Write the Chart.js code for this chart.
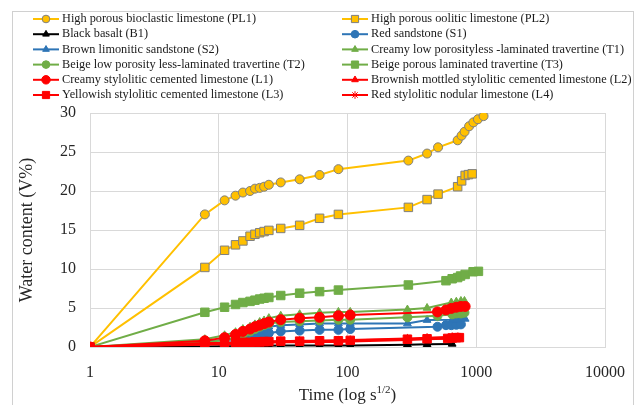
<!DOCTYPE html>
<html>
<head>
<meta charset="utf-8">
<script src="https://cdn.jsdelivr.net/npm/chart.js@4.4.1/dist/chart.umd.min.js"></script>
<style>
    html, body { margin: 0; padding: 0; background: #fff; }
</style>
</head>
<body>
<canvas id="waterChart" width="641" height="405"></canvas>
<script>
"use strict";

// time points (s^1/2), shared start of every series
const tEarly = [1, 7.8, 11.1, 13.5, 15.4, 17.5, 19.1, 20.8, 22.5, 24.5, 30.3, 42.5, 60.7, 85];
const tLow = tEarly.concat([105]);

const tPL1 = tEarly.concat([297, 415, 505, 717, 769, 812, 880, 950, 1030, 1140]);
const tPL2 = tEarly.concat([297, 415, 505, 717, 770, 820, 870, 930]);
const tT3 = tEarly.concat([297, 582, 650, 717, 755, 820, 945, 1040]);
const tT1 = tLow.concat([292, 415, 640, 700, 760, 810]);
const tT2 = tLow.concat([292, 500, 650, 700, 760, 810]);
const tL1 = tLow.concat([500, 582, 640, 700, 760, 820]);
const tS2 = tLow.concat([292, 415, 650, 700, 760, 820]);
const tS1 = tLow.concat([500, 582, 640, 700, 760]);
const tL3 = tLow.concat([292, 415, 600, 650, 700, 740]);
const tL2 = tLow.concat([292, 415, 650, 720]);
const tL4 = tLow.concat([292, 415, 650, 720]);
const tB1 = tLow.concat([292, 415, 650]);

// water content (V%)
const pl1 = [0, 17.0, 18.8, 19.4, 19.8, 20.0, 20.3, 20.4, 20.55, 20.8, 21.1, 21.5, 22.05, 22.8, 23.9, 24.8, 25.6, 26.5, 27.1, 27.6, 28.3, 28.8, 29.2, 29.6];
const pl2 = [0, 10.2, 12.4, 13.1, 13.6, 14.2, 14.45, 14.65, 14.8, 14.95, 15.2, 15.6, 16.5, 17.0, 17.9, 18.9, 19.6, 20.55, 21.3, 22.0, 22.1, 22.2];
const b1 = [0, 0.05, 0.1, 0.1, 0.1, 0.1, 0.15, 0.15, 0.15, 0.15, 0.2, 0.2, 0.2, 0.2, 0.2, 0.3, 0.35, 0.4];
const s1 = [0, 0.4, 0.5, 0.6, 0.7, 0.8, 0.9, 1.1, 1.4, 1.8, 2.0, 2.1, 2.2, 2.2, 2.3, 2.6, 2.8, 2.8, 2.85, 2.9];
const s2 = [0, 0.7, 0.9, 1.0, 1.2, 1.4, 1.6, 1.9, 2.2, 2.6, 2.8, 2.9, 3.0, 3.0, 3.0, 3.0, 3.45, 3.5, 3.55, 3.6, 3.6];
const t1 = [0, 1.0, 1.5, 1.9, 2.3, 2.6, 2.9, 3.2, 3.4, 3.7, 4.0, 4.2, 4.4, 4.5, 4.5, 4.8, 5.0, 5.7, 5.8, 5.9, 5.9];
const t2 = [0, 0.6, 0.9, 1.2, 1.6, 2.0, 2.3, 2.6, 2.8, 3.0, 3.2, 3.3, 3.4, 3.5, 3.5, 3.8, 4.0, 4.2, 4.3, 4.3, 4.4];
const t3 = [0, 4.45, 5.1, 5.45, 5.7, 5.85, 6.0, 6.15, 6.25, 6.35, 6.6, 6.9, 7.1, 7.3, 7.95, 8.5, 8.75, 8.9, 9.1, 9.3, 9.65, 9.7];
const l1 = [0, 0.8, 1.2, 1.6, 2.0, 2.3, 2.6, 2.8, 3.0, 3.2, 3.5, 3.7, 3.8, 4.0, 4.1, 4.5, 4.75, 4.95, 5.1, 5.2, 5.2];
const l2 = [0, 0.3, 0.35, 0.4, 0.4, 0.45, 0.45, 0.5, 0.5, 0.55, 0.6, 0.6, 0.65, 0.65, 0.7, 0.9, 1.0, 1.1, 1.15];
const l3 = [0, 0.5, 0.5, 0.55, 0.6, 0.6, 0.65, 0.65, 0.7, 0.7, 0.75, 0.75, 0.8, 0.8, 0.85, 1.0, 1.05, 1.1, 1.15, 1.2, 1.2];
const l4 = [0, 0.4, 0.45, 0.5, 0.5, 0.55, 0.6, 0.6, 0.65, 0.7, 0.75, 0.8, 0.8, 0.85, 0.9, 1.1, 1.2, 1.3, 1.3];

const xTicks = [1, 10, 100, 1000, 10000];

const GOLD = '#FFC000';
const BLACK = '#000000';
const BLUE = '#2E75B6';
const GREEN = '#70AD47';
const RED = '#FF0000';
const SERIF = '"Liberation Serif", "Times New Roman", serif';

function pts(xs, ys) {
    return xs.map((x, i) => ({ x: x, y: ys[i] }));
}

function series(label, xs, ys, color, style, radius, edge) {
    return {
        label: label,
        data: pts(xs, ys),
        borderColor: color,
        backgroundColor: color,
        borderWidth: 2,
        pointStyle: style,
        pointRadius: radius,
        pointHoverRadius: radius,
        pointBackgroundColor: color,
        pointBorderColor: edge || color,
        pointBorderWidth: 1,
        tension: 0
    };
}

const datasets = [
    series('High porous bioclastic limestone (PL1)', tPL1, pl1, GOLD, 'circle', 4.5, '#7F7F7F'),
    series('High porous oolitic limestone (PL2)', tPL2, pl2, GOLD, 'rect', 6, '#7F7F7F'),
    series('Black basalt (B1)', tB1, b1, BLACK, 'triangle', 4.5),
    series('Red sandstone (S1)', tS1, s1, BLUE, 'circle', 4.5),
    series('Brown limonitic sandstone (S2)', tS2, s2, BLUE, 'triangle', 4.5),
    series('Creamy low porosityless -laminated travertine (T1)', tT1, t1, GREEN, 'triangle', 4.5),
    series('Beige low porosity less-laminated travertine (T2)', tT2, t2, GREEN, 'circle', 4.5),
    series('Beige porous laminated travertine (T3)', tT3, t3, GREEN, 'rect', 6),
    series('Creamy stylolitic cemented limestone (L1)', tL1, l1, RED, 'circle', 5),
    series('Brownish mottled stylolitic cemented limestone (L2)', tL2, l2, RED, 'triangle', 4.5),
    series('Yellowish stylolitic cemented limestone (L3)', tL3, l3, RED, 'rect', 6),
    series('Red stylolitic nodular limestone (L4)', tL4, l4, RED, 'star', 4.5)
];
// later series sit on top
datasets.forEach((ds, i) => { ds.order = datasets.length - i; });

const framePlugin = {
    id: 'frame',
    beforeDraw(chart) {
        const ctx = chart.ctx;
        ctx.save();
        ctx.fillStyle = '#fff';
        ctx.fillRect(0, 0, chart.width, chart.height);
        ctx.strokeStyle = '#D0D0D0';
        ctx.lineWidth = 1;
        ctx.strokeRect(12.5, 11.5, 621, 400);
        ctx.restore();
    }
};

const legendPlugin = {
    id: 'twoColLegend',
    afterDraw(chart) {
        const ctx = chart.ctx;
        ctx.save();
        ctx.font = '12.3px ' + SERIF;
        ctx.textBaseline = 'middle';
        chart.data.datasets.forEach((ds, i) => {
            const col = i % 2;
            const row = Math.floor(i / 2);
            const x0 = col === 0 ? 33 : 342;
            const y = 19 + row * 15.2;
            ctx.strokeStyle = ds.borderColor;
            ctx.lineWidth = 2;
            ctx.beginPath();
            ctx.moveTo(x0, y);
            ctx.lineTo(x0 + 26, y);
            ctx.stroke();
            ctx.fillStyle = ds.pointBackgroundColor;
            ctx.strokeStyle = ds.pointBorderColor;
            ctx.lineWidth = 1;
            Chart.helpers.drawPoint(ctx, {
                pointStyle: ds.pointStyle,
                rotation: 0,
                radius: ds.pointRadius * 0.85,
                borderWidth: 1
            }, x0 + 13, y);
            ctx.fillStyle = '#1a1a1a';
            ctx.fillText(ds.label, x0 + 29, y);
        });
        ctx.restore();
    }
};

const xTitlePlugin = {
    id: 'xTitle',
    afterDraw(chart) {
        const ctx = chart.ctx;
        const main = 'Time (log s';
        const sup = '1/2';
        const end = ')';
        ctx.save();
        ctx.fillStyle = '#262626';
        ctx.textBaseline = 'alphabetic';
        ctx.font = '17px ' + SERIF;
        const w1 = ctx.measureText(main).width;
        const w3 = ctx.measureText(end).width;
        ctx.font = '11px ' + SERIF;
        const w2 = ctx.measureText(sup).width;
        let x = (chart.chartArea.left + chart.chartArea.right) / 2 - (w1 + w2 + w3) / 2;
        const y = 400;
        ctx.font = '17px ' + SERIF;
        ctx.fillText(main, x, y);
        x += w1;
        ctx.font = '11px ' + SERIF;
        ctx.fillText(sup, x, y - 7);
        x += w2;
        ctx.font = '17px ' + SERIF;
        ctx.fillText(end, x, y);
        ctx.restore();
    }
};

document.addEventListener('DOMContentLoaded', function () {
    const canvas = document.getElementById('waterChart');

    new Chart(canvas, {
        type: 'line',
        data: { datasets: datasets },
        plugins: [framePlugin, legendPlugin, xTitlePlugin],
        options: {
            responsive: false,
            animation: false,
            layout: {
                padding: { left: 16, right: 35, top: 113, bottom: 0 }
            },
            plugins: {
                legend: { display: false },
                tooltip: { enabled: false }
            },
            scales: {
                x: {
                    type: 'logarithmic',
                    min: 1,
                    max: 10000,
                    afterBuildTicks: (scale) => {
                        scale.ticks = xTicks.map(v => ({ value: v }));
                    },
                    afterFit: (scale) => { scale.height = 58; },
                    grid: { color: '#D9D9D9', drawTicks: false },
                    border: { color: '#D9D9D9' },
                    ticks: {
                        padding: 16,
                        maxRotation: 0,
                        autoSkip: false,
                        color: '#262626',
                        font: { family: SERIF, size: 16 },
                        callback: (v) => String(v)
                    }
                },
                y: {
                    min: 0,
                    max: 30,
                    afterFit: (scale) => { scale.width = 74; },
                    grid: { color: '#D9D9D9', drawTicks: false },
                    border: { color: '#D9D9D9' },
                    ticks: {
                        stepSize: 5,
                        padding: 14,
                        color: '#262626',
                        font: { family: SERIF, size: 16 }
                    },
                    title: {
                        display: true,
                        text: 'Water content (V%)',
                        color: '#262626',
                        font: { family: SERIF, size: 18 },
                        padding: { top: 0, bottom: 0 }
                    }
                }
            }
        }
    });
});
</script>
</body>
</html>
